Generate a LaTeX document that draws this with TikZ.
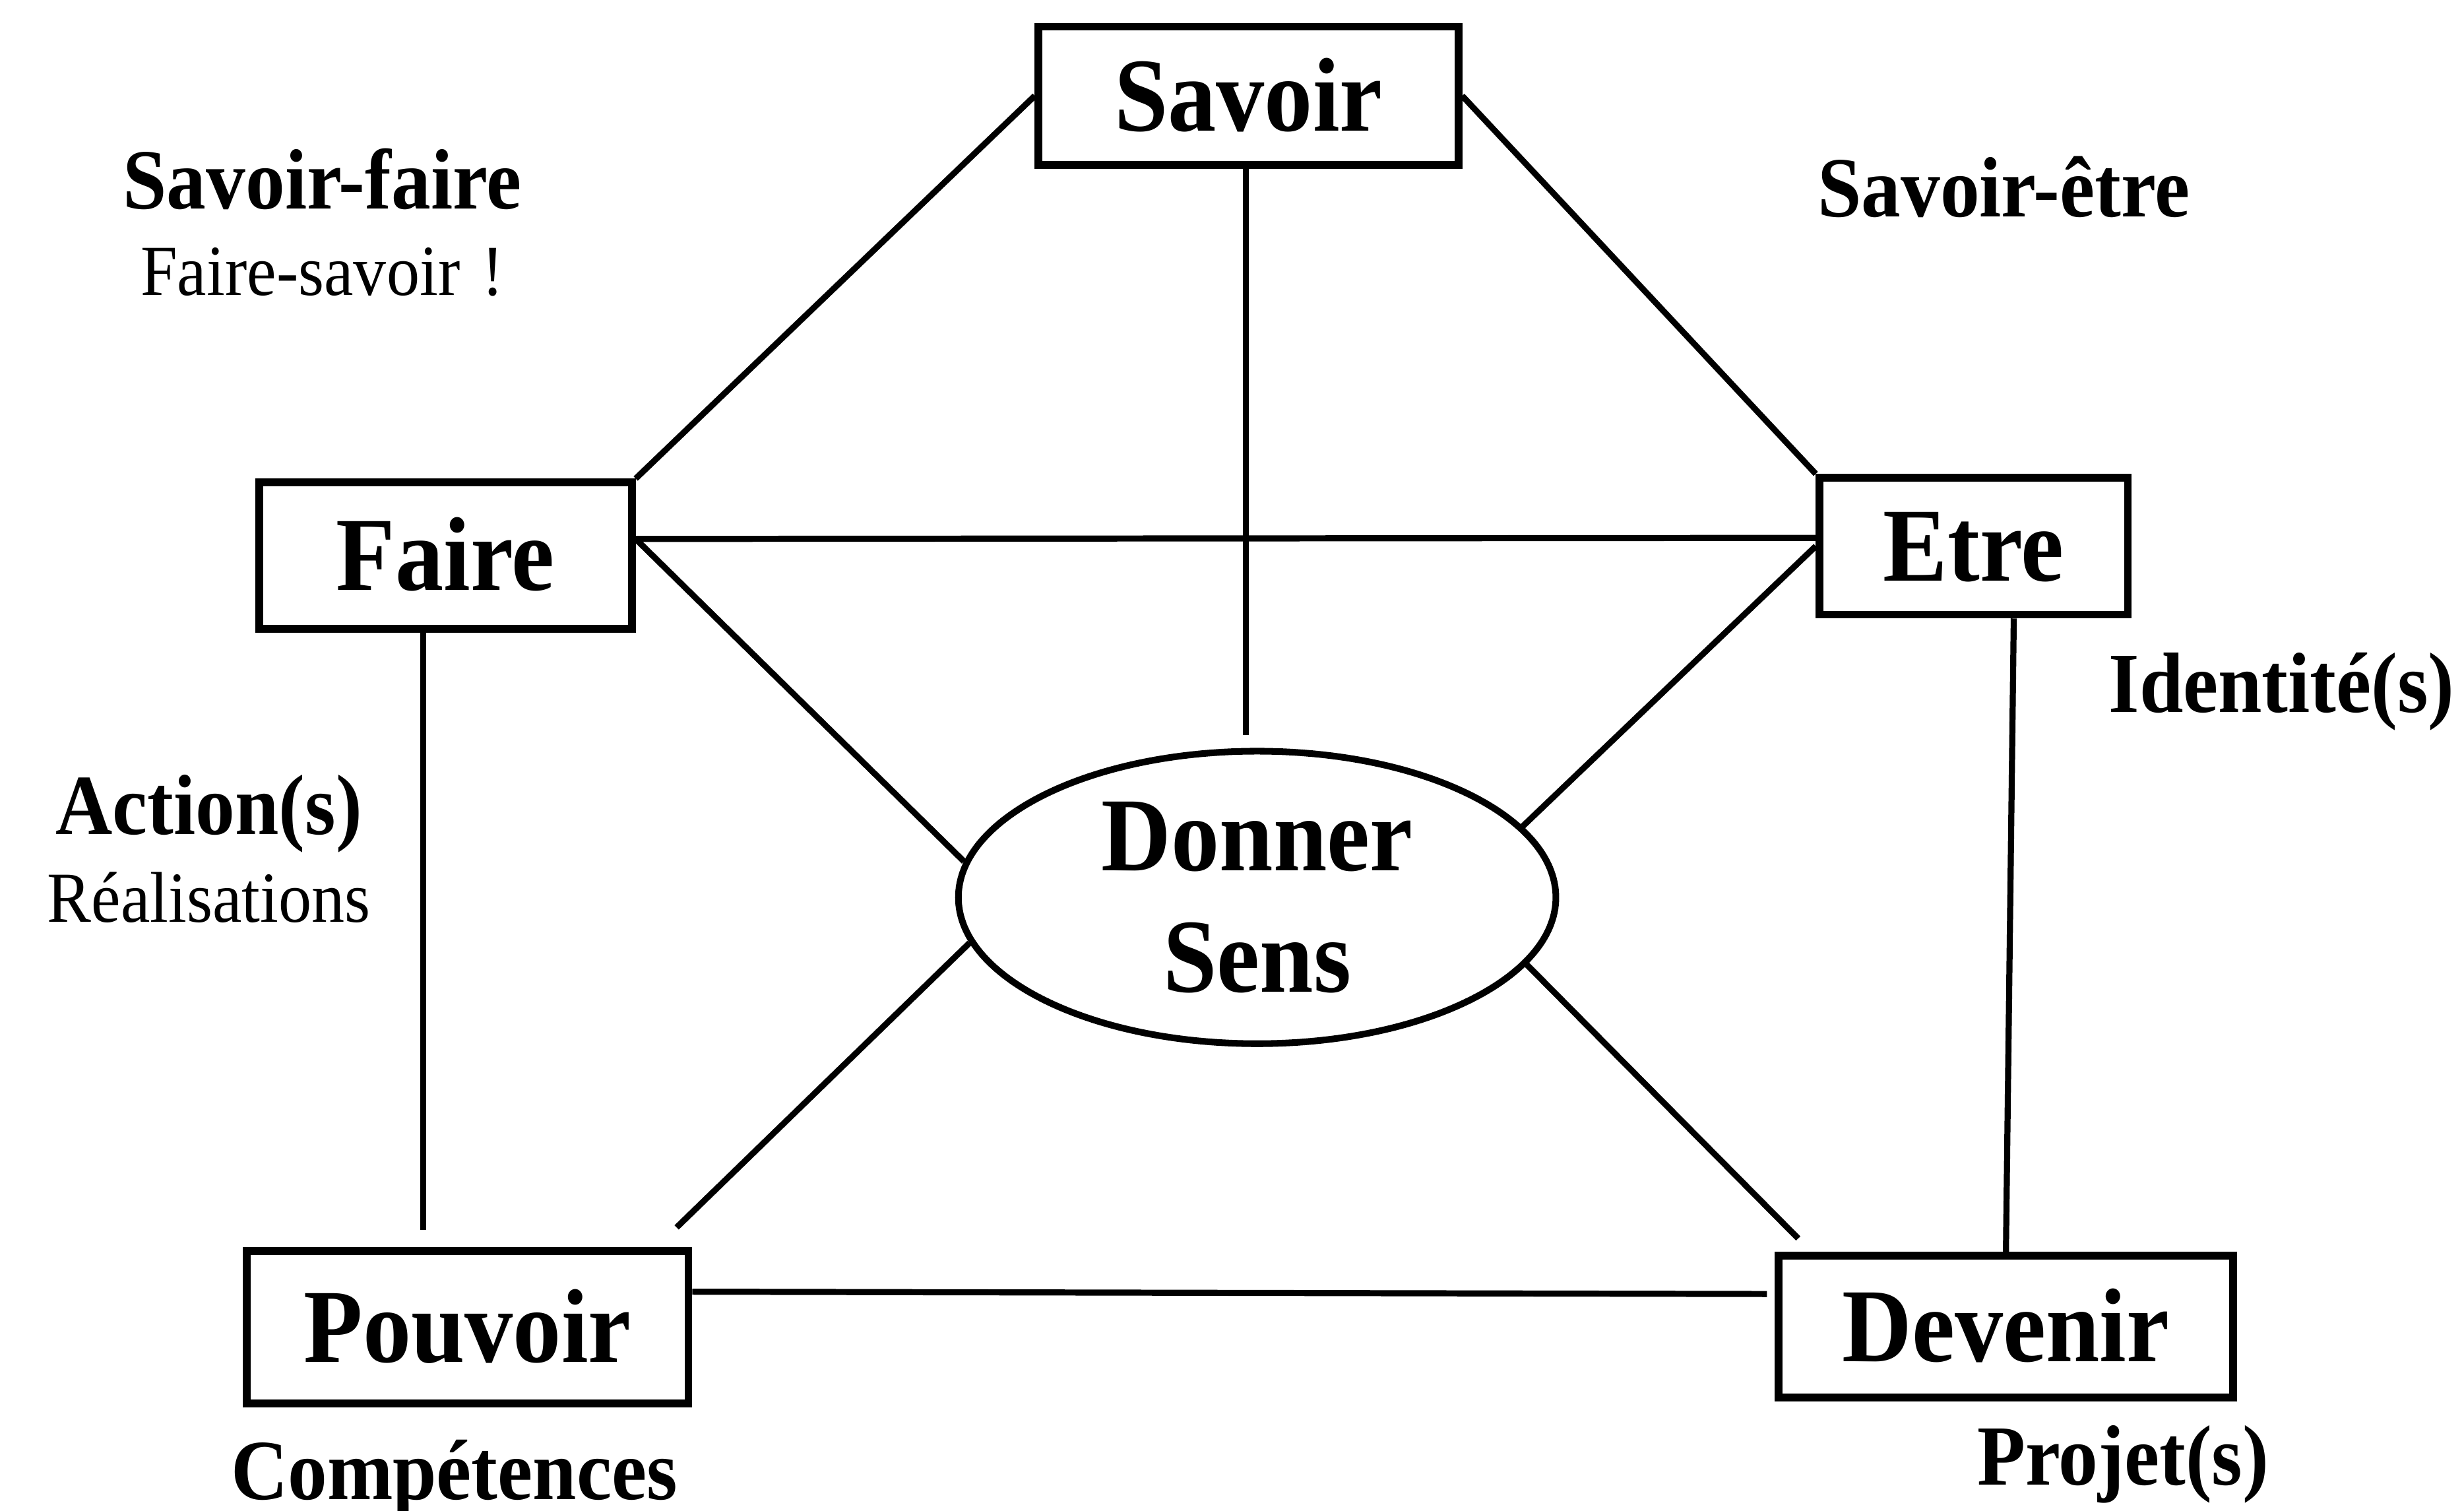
\documentclass[tikz,border=0pt]{standalone}
\usepackage{fontspec}
\setmainfont{Liberation Serif}[FakeStretch=0.92]
\usetikzlibrary{shapes.geometric}
\tikzset{
  cbox/.style  ={rectangle,draw=black,line width=1.4pt,inner sep=0pt,
                 font=\fontsize{19}{22}\selectfont\bfseries,
                 text height=12.6pt,text depth=0pt},
  sens/.style  ={ellipse,draw=black,line width=1.2pt,inner sep=0pt,
                 minimum width=3.8cm,minimum height=1.86cm,align=center,
                 font=\fontsize{19}{22}\selectfont\bfseries},
  lbl/.style   ={anchor=base,inner sep=0pt,
                 font=\fontsize{15.5}{18}\selectfont\bfseries},
  sublbl/.style={anchor=base,inner sep=0pt,font=\fontsize{13}{15}\selectfont},
  ed/.style    ={draw=black,line width=1.1pt},
}

\begin{document}
\begin{tikzpicture}[x=0.01cm, y=-0.01cm]
\useasboundingbox (0,0) rectangle (1568,961);

%% ---------------- boxes ----------------
%% five boxes on a pentagon, the ellipse in the middle
\node[cbox,minimum width=2.67cm,minimum height=0.88cm] (sav) at ( 794.5, 61.0) {Savoir};
\node[cbox,minimum width=2.37cm,minimum height=0.93cm] (fai) at ( 283.5,353.5) {Faire};
\node[cbox,minimum width=1.96cm,minimum height=0.87cm] (etr) at (1256.0,347.5) {Etre};
\node[cbox,minimum width=2.81cm,minimum height=0.97cm] (pou) at ( 297.5,844.5) {Pouvoir};
\node[cbox,minimum width=2.89cm,minimum height=0.90cm] (dev) at (1276.5,844.0) {Devenir};

\node[sens] (don) at (800,571) {Donner\\Sens};

%% ---------------- labels ----------------
\node[lbl]    (sfaire) at ( 205,133.0) {Savoir-faire};
\node[sublbl] (fsavoir) at ( 205,188.0) {Faire-savoir\hspace{0.3em}!};
\node[lbl]    (setre)  at (1275,138.0) {Savoir-être};
\node[lbl]    (ident)  at (1452,453.0) {Identité(s)};
\node[lbl]    (action) at ( 133,531.0) {Action(s)};
\node[sublbl] (realis) at ( 133,586.5) {Réalisations};
\node[lbl]    (compet) at ( 289,954.0) {Compétences};
\node[lbl]    (projet) at (1351,945.0) {Projet(s)};

%% ---------------- edges ----------------
\draw[ed] (sav.west) -- (fai.north east);
\draw[ed] (sav.east) -- (etr.north west);
\draw[ed,shorten >=0.08cm] (sav.-92) -- (sav.-92 |- don.north);

\draw[ed] (fai.5) -- (etr.177);
\draw[ed] (fai.5) -- (don.173);
\draw[ed] (etr.west) -- (don.15);

%% side edges stop short of the lower boxes
\draw[ed,shorten >=0.11cm] (fai.-106) -- (fai.-106 |- pou.north);
\draw[ed] (etr.-61) -- (dev.north);
\draw[ed,shorten >=0.18cm] (don.189) -- (pou.23);
\draw[ed,shorten >=0.12cm] (don.-14) -- (dev.159);
\draw[ed,shorten >=0.05cm] (pou.9) -- (dev.172.5);

\end{tikzpicture}
\end{document}
